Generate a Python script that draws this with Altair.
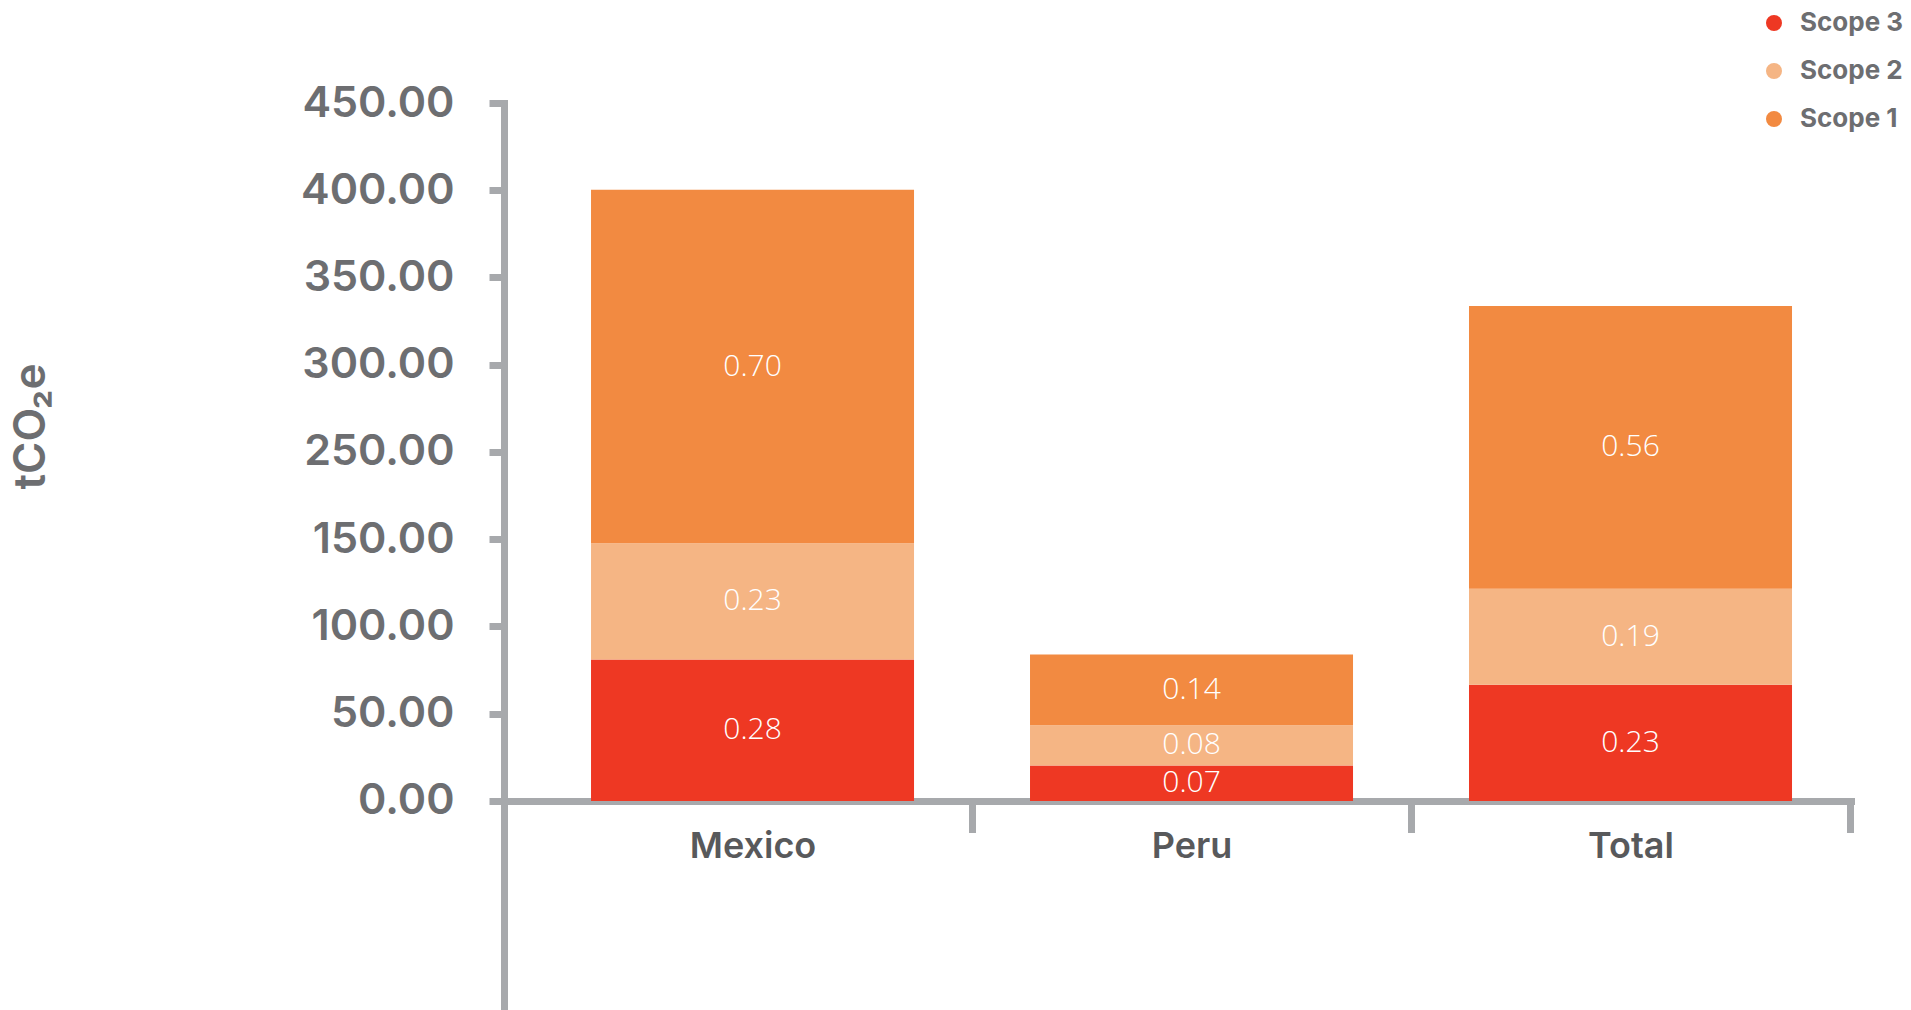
import altair as alt
import pandas as pd

# Emission values per region and scope
regions = ["Mexico", "Peru", "Total"]
scopes = ["Scope 3", "Scope 2", "Scope 1"]
scope_colors = ["#EE3823", "#F5B584", "#F28A41"]
scope3 = [0.28, 0.07, 0.23]
scope2 = [0.23, 0.08, 0.19]
scope1 = [0.70, 0.14, 0.56]

# Axis tick labels (nine evenly spaced ticks)
y_tick_labels = ["0.00", "50.00", "100.00", "150.00", "250.00",
                 "300.00", "350.00", "400.00", "450.00"]
Y_TOP = 1.382
Y_BOTTOM = -0.414
tick_step = Y_TOP / (len(y_tick_labels) - 1)
tick_values = [i * tick_step for i in range(len(y_tick_labels))]

rows = []
for i, r in enumerate(regions):
    for rank, (s, vals) in enumerate(zip(scopes, [scope3, scope2, scope1])):
        rows.append({"region": r, "scope": s, "rank": rank, "value": vals[i]})
df = pd.DataFrame(rows)

GRAY = "#A7A9AC"
TEXT = "#6D6E71"
FONT = "Inter"

label_lookup = "[" + ",".join(f"'{t}'" for t in y_tick_labels) + "]"
label_expr = f"{label_lookup}[round(datum.value / {tick_step})]"

x_scale = alt.Scale(domain=regions, paddingInner=0.2642, paddingOuter=0.1663, align=0.596)
y_scale = alt.Scale(domain=[Y_BOTTOM, Y_TOP], nice=False, zero=False)

x_axis = alt.Axis(
    title=None,
    orient="bottom",
    offset=-209,
    labelAngle=0,
    labelFont=FONT,
    labelFontWeight=600,
    labelFontSize=36,
    labelColor="#58595B",
    labelBaseline="alphabetic",
    labelPadding=25,
    tickOffset=219.5,
    labelOffset=-219.5,
    tickSize=31.5,
    tickWidth=7,
    tickColor=GRAY,
    tickCap="butt",
    domainColor=GRAY,
    domainWidth=7,
    domainCap="square",
)

y_axis = alt.Axis(
    title="tCO₂e",
    values=tick_values,
    labelExpr=label_expr,
    grid=False,
    labelFont=FONT,
    labelFontWeight=600,
    labelFontSize=43,
    labelColor=TEXT,
    labelPadding=35,
    labelBaseline="middle",
    tickSize=15,
    tickWidth=7,
    tickColor=GRAY,
    tickCap="butt",
    domainColor=GRAY,
    domainWidth=7,
    domainCap="square",
    titleFont=FONT,
    titleFontWeight=600,
    titleFontSize=44,
    titleColor=TEXT,
    titleAngle=-90,
    titleAlign="center",
    titleBaseline="middle",
    titleX=-473,
    titleY=323,
)

base = alt.Chart(df).transform_stack(
    stack="value",
    groupby=["region"],
    as_=["y0", "y1"],
    sort=[alt.SortField("rank", order="ascending")],
)

bars = base.mark_bar().encode(
    x=alt.X("region:N", scale=x_scale, sort=regions, axis=x_axis),
    y=alt.Y("y0:Q", scale=y_scale, axis=y_axis),
    y2="y1:Q",
    color=alt.Color(
        "scope:N",
        scale=alt.Scale(domain=scopes, range=scope_colors),
        legend=alt.Legend(
            title=None,
            orient="none",
            legendX=1257,
            legendY=-93,
            symbolType="circle",
            symbolSize=256,
            symbolStrokeWidth=0,
            labelFont=FONT,
            labelFontWeight=700,
            labelFontSize=26,
            labelColor=TEXT,
            labelOffset=13,
            rowPadding=22,
            padding=0,
        ),
    ),
)

labels = base.transform_calculate(
    mid="(datum.y0 + datum.y1) / 2"
).mark_text(
    color="white", font="Open Sans", fontWeight=300, fontSize=30, baseline="middle"
).encode(
    x=alt.X("region:N", scale=x_scale, sort=regions, axis=x_axis),
    y=alt.Y("mid:Q", scale=y_scale, axis=y_axis),
    text=alt.Text("value:Q", format=".2f"),
)

chart = alt.layer(bars, labels).properties(
    width=1347,
    height=907,
    background="white",
    autosize=alt.AutoSizeParams(type="none"),
    padding={"left": 504, "top": 103, "right": 60, "bottom": 0},
).configure_view(stroke=None, strokeWidth=0)

chart.save("out.html", embed_options={"renderer": "svg", "actions": False})
